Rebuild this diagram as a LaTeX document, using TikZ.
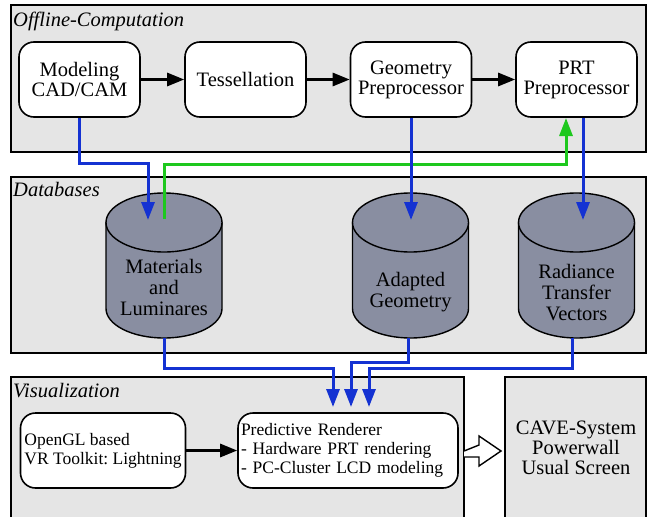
\documentclass[tikz,border=0pt]{standalone}
\usepackage{fontspec}
\setmainfont{Liberation Serif}
\usetikzlibrary{arrows.meta}

\definecolor{panelgray}{RGB}{229,229,229}
\definecolor{dbgray}{RGB}{137,142,161}
\definecolor{flowblue}{RGB}{20,50,210}
\definecolor{flowgreen}{RGB}{30,200,30}

\begin{document}
\frenchspacing
\begin{tikzpicture}[
    x=1pt, y=-1pt,
    panel/.style={draw=black, fill=panelgray, line width=1.2pt},
    title/.style={anchor=base west, inner sep=0pt, font=\fontsize{20.5}{20}\selectfont\itshape},
    stage/.style={draw, fill=white, rounded corners=15pt, line width=1.6pt,
        minimum width=121pt, minimum height=75pt, align=center, inner sep=0pt,
        font=\fontsize{20.5}{20}\selectfont},
    tool/.style={draw, fill=white, rounded corners=15pt, line width=1.6pt,
        minimum height=75pt, align=left, inner ysep=0pt,
        font=\fontsize{17.5}{19}\selectfont},
    dbshape/.style={draw=black, fill=dbgray, line width=1.4pt},
    database/.pic={
        \filldraw[dbshape] (-58,-43) -- (-58,43)
            arc[start angle=180, end angle=0, x radius=58, y radius=29.5]
            -- (58,-43) -- cycle;
        \filldraw[dbshape] (0,-43) ellipse [x radius=58, y radius=29.5];
        \coordinate (-top) at (0,-72.5);
        \coordinate (-bottom) at (0,72.5);
    },
    dbtext/.style={align=center, inner sep=0pt, font=\fontsize{20.5}{21}\selectfont},
    flow/.style={line width=2.8pt, -{Triangle[length=17pt, width=13pt]}},
    feed/.style={line width=3pt, draw=flowblue, -{Triangle[length=18pt, width=13pt]}},
    back/.style={line width=3pt, draw=flowgreen, -{Triangle[length=18pt, width=13pt]}}
]

    \useasboundingbox (0,0) rectangle (647,516);
    \clip (0,0) rectangle (647,516);

    % Panels
    \draw[panel] (11,5) rectangle (646,152);
    \draw[panel] (11,177) rectangle (646,353);
    \draw[panel] (11,377) rectangle (464,530);
    \draw[panel] (505,377) rectangle (646,530);

    \node[title] (offtitle) at (13,27) {Offline-Computation};
    \node[title] (dbtitle) at (13,196) {Databases};
    \node[title] (vistitle) at (13,397) {Visualization};

    % Coordinates
    \coordinate (matin) at (148,220);
    \coordinate (matout) at (164,219);
    \coordinate (prtin) at (566,118);
    \coordinate (adin) at (411,220);
    \coordinate (rtvin) at (583,220);
    \coordinate (rin1) at (333,407);
    \coordinate (rin2) at (351,407);
    \coordinate (rin3) at (369,407);
    \coordinate (outarrow) at (464,451);

    % Offline stages
    \node[stage] (model) at (79.5,79.5) {Modeling\\CAD/CAM};
    \node[stage] (tess) at (245.5,79.5) {Tessellation};
    \node[stage] (geo) at (411,79.5) {Geometry\\Preprocessor};
    \node[stage] (prt) at (576.5,79.5) {PRT\\Preprocessor};

    \draw[flow] (model) -- (tess);
    \draw[flow] (tess) -- (geo);
    \draw[flow] (geo) -- (prt);

    % Databases
    \pic (mat) at (164,265.5) {database};
    \pic (adp) at (410.5,265.5) {database};
    \pic (rtv) at (576.5,265.5) {database};
    \node[dbtext] (mattxt) at (164,287) {Materials\\and\\Luminares};
    \node[dbtext] (adptxt) at (410.5,292) {Adapted\\Geometry};
    \node[dbtext] (rtvtxt) at (576.5,293) {Radiance\\Transfer\\Vectors};

    % Visualization
    \node[tool, minimum width=165pt, inner xsep=1pt] (opengl) at (103,450.5)
        {OpenGL based\\VR Toolkit: Lightning};
    \node[tool, text width=214pt, inner xsep=3pt] (render) at (348,450.5)
        {Predictive Renderer\\- Hardware PRT rendering\\- PC-Cluster LCD modeling};
    \node[align=center, font=\fontsize{20.5}{20}\selectfont] (cave) at (576,448)
        {CAVE-System\\Powerwall\\Usual Screen};

    \draw[flow] (opengl) -- (render);

    % Output arrow
    \draw[line width=1.4pt, fill=white] (outarrow) -- ++(15,-6) -- ++(0,-9)
        -- (501,451) -- (479,466) -- ++(0,-9) -- ++(-15,0);

    % Data flow
    \draw[feed] (model.south) -- ++(0,46) -| (matin);
    \draw[back] (matout) -- ++(0,-55) -| (prtin);
    \draw[feed] (geo.south) -- (adin);
    \draw[feed] ([xshift=6.5pt]prt.south) -- (rtvin);

    \draw[feed] (mat-bottom) -- ++(0,30) -| (rin1);
    \draw[feed] ([xshift=-2.5pt]adp-bottom) -- ++(0,24) -| (rin2);
    \draw[feed] ([xshift=-4.5pt]rtv-bottom) -- ++(0,30) -| (rin3);

\end{tikzpicture}
\end{document}
